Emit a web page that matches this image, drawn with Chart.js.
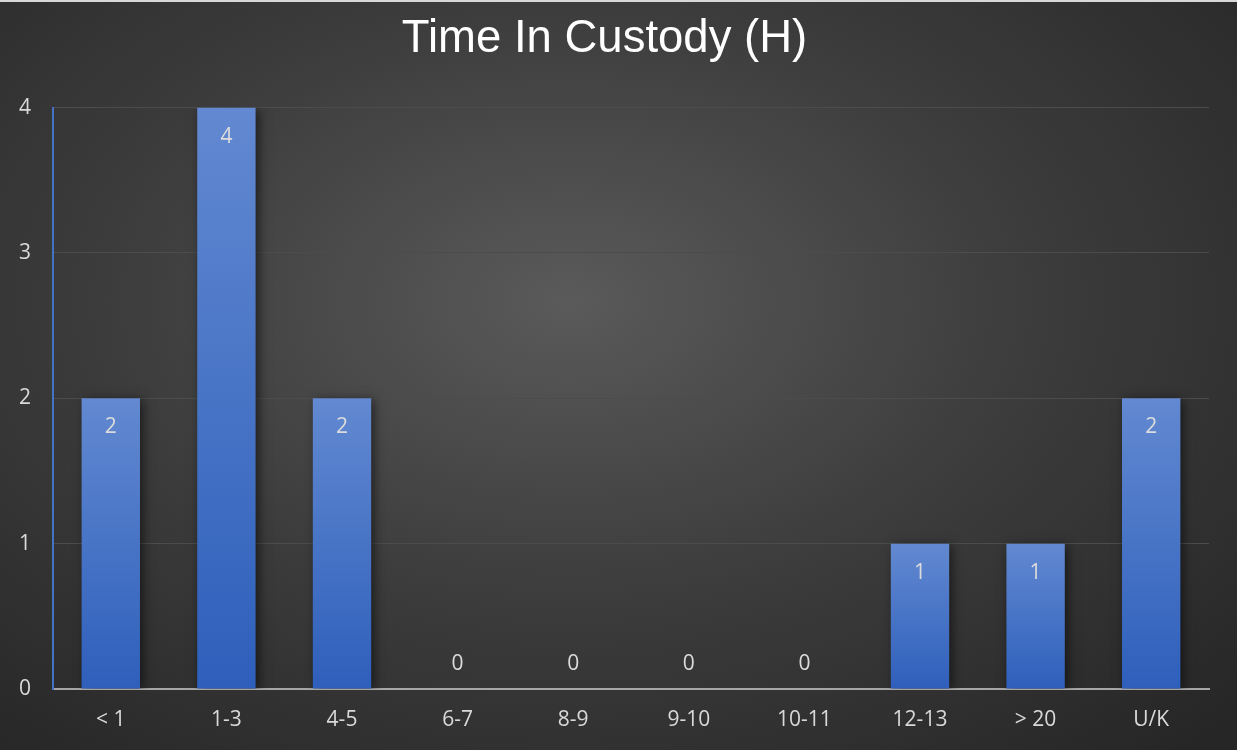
<!DOCTYPE html>
<html>
<head>
<meta charset="utf-8">
<script src="https://cdn.jsdelivr.net/npm/chart.js@4.4.0/dist/chart.umd.min.js"></script>
<style>
  html, body { margin: 0; padding: 0; }
  #wrap {
    width: 1237px; height: 750px; position: relative;
    background: radial-gradient(ellipse 75% 80% at 46% 40%, #5a5a5a 0%, #3c3c3c 50%, #262626 100%);
    border-top: 2px solid #d8d8d8; box-sizing: border-box;
  }
</style>
</head>
<body>
<div id="wrap"><canvas id="myChart" width="1237" height="748"></canvas></div>
<script>
const categories = ["< 1", "1-3", "4-5", "6-7", "8-9", "9-10", "10-11", "12-13", "> 20", "U/K"];
const counts = [2, 4, 2, 0, 0, 0, 0, 1, 1, 2];
const yTicks = [0, 1, 2, 3, 4];

// per-bar vertical gradient, lighter at top
function barFill(context) {
  const chart = context.chart;
  if (!chart.chartArea || context.type !== 'data') return '#4472c4';
  const y = chart.scales.y;
  const top = y.getPixelForValue(context.raw);
  const bottom = y.getPixelForValue(0);
  if (bottom - top < 1) return '#4472c4';
  const g = chart.ctx.createLinearGradient(0, top, 0, bottom);
  g.addColorStop(0, '#6289d1');
  g.addColorStop(1, '#2e5fbb');
  return g;
}

const barShadow = {
  id: 'barShadow',
  beforeDatasetDraw(chart) {
    const ctx = chart.ctx;
    ctx.save();
    ctx.shadowColor = 'rgba(0,0,0,0.55)';
    ctx.shadowBlur = 10;
    ctx.shadowOffsetX = 3;
    ctx.shadowOffsetY = 2;
  },
  afterDatasetDraw(chart) {
    chart.ctx.restore();
  }
};

const valueLabels = {
  id: 'valueLabels',
  afterDatasetsDraw(chart) {
    const ctx = chart.ctx;
    const meta = chart.getDatasetMeta(0);
    const base = chart.scales.y.getPixelForValue(0);
    ctx.save();
    ctx.fillStyle = '#dcdcdc';
    ctx.font = '21px "Open Sans"';
    ctx.textAlign = 'center';
    ctx.textBaseline = 'middle';
    meta.data.forEach((bar, i) => {
      const v = counts[i];
      const y = v === 0 ? base - 25 : bar.y + 29;
      ctx.fillText(String(v), bar.x, y);
    });
    ctx.restore();
  }
};

const ctx = document.getElementById("myChart").getContext("2d");
const myChart = new Chart(ctx, {
  type: "bar",
  data: {
    labels: categories,
    datasets: [{
      label: "Count",
      data: counts,
      backgroundColor: barFill,
      borderWidth: 0,
      barPercentage: 0.505,
      categoryPercentage: 1
    }]
  },
  options: {
    responsive: false,
    animation: false,
    layout: { padding: { left: 0, right: 28, top: 0, bottom: 0 } },
    plugins: {
      legend: { display: false },
      tooltip: { enabled: false },
      title: {
        display: true,
        text: "Time In Custody (H)",
        color: '#ffffff',
        font: { family: '"Liberation Sans", Arial', size: 45.5, weight: 'normal', lineHeight: 1.2 },
        padding: { top: 10, bottom: 41 }
      }
    },
    scales: {
      x: {
        grid: { display: false, drawTicks: false },
        border: { display: true, color: '#a6a6a6', width: 2 },
        ticks: { color: '#d9d9d9', font: { family: '"Open Sans"', size: 21 }, padding: 18, maxRotation: 0 },
        afterFit(scale) { scale.height = 61; }
      },
      y: {
        min: 0,
        max: 4,
        afterBuildTicks(scale) { scale.ticks = yTicks.map(v => ({ value: v })); },
        grid: { color: '#4c4c4c', lineWidth: 1, drawTicks: false },
        border: { display: true, color: '#4472c4', width: 2 },
        ticks: { color: '#d9d9d9', font: { family: '"Open Sans"', size: 21 }, padding: 22 },
        afterFit(scale) { scale.width = 53; }
      }
    }
  },
  plugins: [barShadow, valueLabels]
});
</script>
</body>
</html>
